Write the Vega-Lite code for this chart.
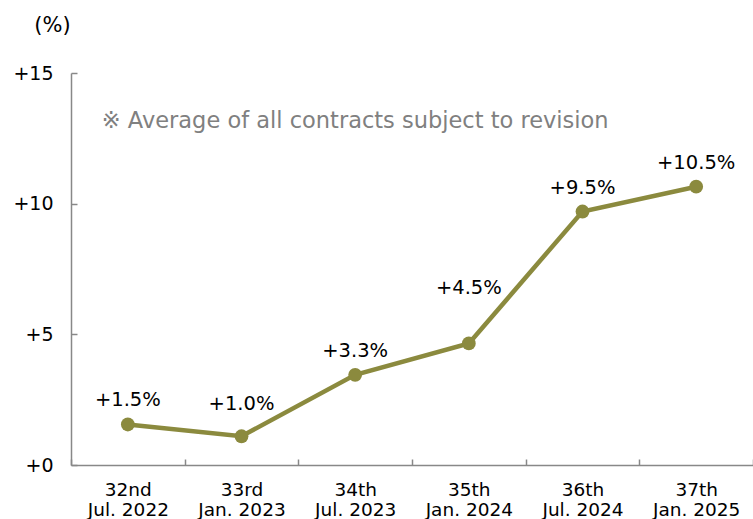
{
  "$schema": "https://vega.github.io/schema/vega-lite/v6.json",
  "width": 682,
  "height": 392,
  "autosize": {"type": "none"},
  "padding": {"left": 71, "top": 73, "right": 0, "bottom": 54},
  "background": "white",
  "config": {"font": "DejaVu Sans", "view": {"stroke": null}},
  "data": {
    "values": [
      {"period": "32nd|Jul. 2022", "value": 1.55, "label": "+1.5%"},
      {"period": "33rd|Jan. 2023", "value": 1.1, "label": "+1.0%"},
      {"period": "34th|Jul. 2023", "value": 3.45, "label": "+3.3%"},
      {"period": "35th|Jan. 2024", "value": 4.65, "label": "+4.5%"},
      {"period": "36th|Jul. 2024", "value": 9.7, "label": "+9.5%"},
      {"period": "37th|Jan. 2025", "value": 10.65, "label": "+10.5%"}
    ]
  },
  "encoding": {
    "x": {
      "field": "period",
      "type": "ordinal",
      "sort": null,
      "scale": {"type": "band", "paddingInner": 0, "paddingOuter": 0},
      "axis": {
        "title": null,
        "labelAngle": 0,
        "labelExpr": "split(datum.label, '|')",
        "labelFontSize": 18.5,
        "labelColor": "#000000",
        "labelLineHeight": 20,
        "labelBaseline": "top",
        "labelPadding": 21,
        "tickBand": "extent",
        "tickSize": -6,
        "tickColor": "#888888",
        "tickWidth": 1.5,
        "domainColor": "#888888",
        "domainWidth": 1.5,
        "grid": false
      }
    },
    "y": {
      "field": "value",
      "type": "quantitative",
      "scale": {"domain": [0, 15], "nice": false},
      "axis": {
        "values": [0, 5, 10, 15],
        "labelExpr": "'+' + datum.value",
        "labelFontSize": 19,
        "labelColor": "#000000",
        "labelPadding": 24,
        "tickSize": -6,
        "tickColor": "#888888",
        "tickWidth": 1.5,
        "domainColor": "#888888",
        "domainWidth": 1.5,
        "grid": false,
        "title": "(%)",
        "titleAngle": 0,
        "titleX": -19,
        "titleY": -48,
        "titleAlign": "center",
        "titleBaseline": "middle",
        "titleFontSize": 21,
        "titleFontWeight": "normal",
        "titleColor": "#000000"
      }
    }
  },
  "layer": [
    {"mark": {"type": "line", "color": "#8B8A3E", "strokeWidth": 4.5}},
    {"mark": {"type": "point", "filled": true, "opacity": 1, "size": 190, "color": "#8B8A3E"}},
    {
      "transform": [{"filter": "datum.label != '+1.0%' && datum.label != '+4.5%'"}],
      "mark": {"type": "text", "fontSize": 19.5, "color": "#000000", "baseline": "middle", "dy": -24},
      "encoding": {"text": {"field": "label"}}
    },
    {
      "transform": [{"filter": "datum.label == '+1.0%'"}],
      "mark": {"type": "text", "fontSize": 19.5, "color": "#000000", "baseline": "middle", "dy": -32},
      "encoding": {"text": {"field": "label"}}
    },
    {
      "transform": [{"filter": "datum.label == '+4.5%'"}],
      "mark": {"type": "text", "fontSize": 19.5, "color": "#000000", "baseline": "middle", "dy": -55},
      "encoding": {"text": {"field": "label"}}
    },
    {
      "data": {"values": [{"period": "32nd|Jul. 2022", "value": 13.15, "note": "※ Average of all contracts subject to revision"}]},
      "mark": {"type": "text", "fontSize": 22.5, "color": "#808080", "align": "left", "baseline": "middle", "dx": -26},
      "encoding": {"text": {"field": "note"}}
    }
  ]
}
